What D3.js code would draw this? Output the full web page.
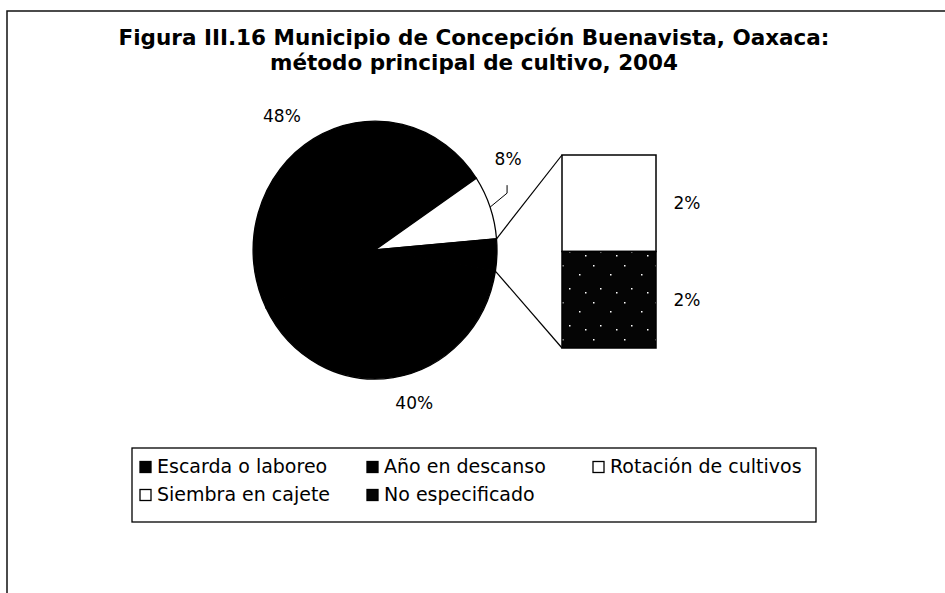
<!DOCTYPE html>
<html>
<head>
<meta charset="utf-8">
<script src="https://cdn.jsdelivr.net/npm/d3@7"></script>
<style>
  body { margin: 0; background: #fff; }
</style>
</head>
<body>
<svg id="chart" width="945" height="593"></svg>
<script>
"use strict";

// chart values
var title_lines = [
    "Figura III.16 Municipio de Concepción Buenavista, Oaxaca:",
    "método principal de cultivo, 2004"
];
var categories = ["Escarda o laboreo", "Año en descanso", "Rotación de cultivos",
                  "Siembra en cajete", "No especificado"];
var values = [48, 40, 8, 2, 2];
// the last two points are pulled out of the pie into the stacked bar
var in_bar = [false, false, false, true, true];
// clockwise drawing order of the pie slices ("Otros" is the bar slice)
var pie_order = ["Año en descanso", "Escarda o laboreo", "Rotación de cultivos", "Otros"];
var fills = ["#000", "#000", "#fff", "#fff", "url(#speckle)"];

var font = "'Century Gothic', 'DejaVu Sans', sans-serif";
var svg = d3.select("#chart");

// speckled dark fill used for "No especificado"
var defs = svg.append("defs");
var pat = defs.append("pattern")
    .attr("id", "speckle")
    .attr("patternUnits", "userSpaceOnUse")
    .attr("width", 31).attr("height", 37);
pat.append("rect").attr("width", 31).attr("height", 37).attr("fill", "#050505");
[[4, 6], [21, 15], [11, 29], [27, 33]].forEach(function(p) {
    pat.append("rect").attr("x", p[0]).attr("y", p[1])
        .attr("width", 1.5).attr("height", 1.5).attr("fill", "#fff");
});

// outer frame (only top and left edges show in the figure)
svg.append("path")
    .attr("d", "M7,593V11H945")
    .attr("fill", "none")
    .attr("stroke", "#111")
    .attr("stroke-width", 1.5);

// title
svg.append("text")
    .attr("x", 474).attr("y", 45)
    .attr("text-anchor", "middle")
    .attr("font-family", font)
    .attr("font-weight", "bold")
    .attr("font-size", 21.5)
    .selectAll("tspan")
    .data(title_lines)
  .enter().append("tspan")
    .attr("x", 474)
    .attr("dy", function(d, i) { return i === 0 ? 0 : 25; })
    .text(function(d) { return d; });

// ---- pie ----
var cx = 375, cy = 250, rx = 122, ry = 129;
var other_value = d3.sum(values.filter(function(v, i) { return in_bar[i]; }));

var pie_data = pie_order.map(function(name) {
    var i = categories.indexOf(name);
    return {
        name: name,
        value: i < 0 ? other_value : values[i],
        fill: i < 0 ? "#000" : fills[i]
    };
});

// place the "Otros" slice just right of 3 o'clock, like the original
var other_start = 85 * Math.PI / 180;
var before = d3.sum(pie_data.slice(0, 3), function(d) { return d.value; }) / 100 * 2 * Math.PI;
var pie = d3.pie()
    .sort(null)
    .value(function(d) { return d.value; })
    .startAngle(other_start - before)
    .endAngle(other_start - before + 2 * Math.PI);
var slices = pie(pie_data);

var arc = d3.arc().innerRadius(0).outerRadius(1);

var pie_g = svg.append("g")
    .attr("transform", "translate(" + cx + "," + cy + ") scale(" + rx + "," + ry + ")");
pie_g.selectAll("path")
    .data(slices)
  .enter().append("path")
    .attr("d", arc)
    .attr("fill", function(d) { return d.data.fill; })
    .attr("stroke", "#000")
    .attr("stroke-width", 1.3)
    .attr("vector-effect", "non-scaling-stroke");

function edge_point(angle, k) {
    return [cx + rx * k * Math.sin(angle), cy - ry * k * Math.cos(angle)];
}
function mid_angle(d) { return (d.startAngle + d.endAngle) / 2; }

function value_label(d) {
    var i = categories.indexOf(d.data.name);
    return values[i] + "%";
}

// outside labels for the two big slices; Excel sets them a bit
// counter-clockwise of the slice middle
var big = slices.filter(function(d) { return d.data.value > 20; });
var label_turn = -0.1;
svg.selectAll(".big-label")
    .data(big)
  .enter().append("text")
    .attr("class", "big-label")
    .attr("x", function(d) { return edge_point(mid_angle(d) + label_turn, 1.3)[0]; })
    .attr("y", function(d) { return edge_point(mid_angle(d), 1.2)[1] + 6; })
    .attr("text-anchor", "middle")
    .attr("font-family", font)
    .attr("font-size", 17)
    .text(value_label);

// small white slice gets a leader line
var small = slices.filter(function(d) { return d.data.name === "Rotación de cultivos"; })[0];
var p0 = edge_point(mid_angle(small), 1);
var elbow = [p0[0] + 17, p0[1] - 14];
var tip = [elbow[0], elbow[1] - 8];
svg.append("polyline")
    .attr("points", [p0, elbow, tip].map(function(p) { return p.join(","); }).join(" "))
    .attr("fill", "none")
    .attr("stroke", "#000")
    .attr("stroke-width", 1);
svg.append("text")
    .attr("x", tip[0] + 1).attr("y", tip[1] - 20)
    .attr("text-anchor", "middle")
    .attr("font-family", font)
    .attr("font-size", 17)
    .text(value_label(small));

// ---- bar of the split slice ----
var bar_x = 562, bar_w = 94;
var bar_items = categories.map(function(name, i) {
    return {name: name, value: values[i], fill: fills[i]};
}).filter(function(d, i) { return in_bar[i]; });

var y = d3.scaleLinear().domain([0, other_value]).range([155, 348]);
var acc = 0;
bar_items.forEach(function(d) { d.y0 = acc; acc += d.value; d.y1 = acc; });

svg.selectAll(".bar-seg")
    .data(bar_items)
  .enter().append("rect")
    .attr("class", "bar-seg")
    .attr("x", bar_x)
    .attr("y", function(d) { return y(d.y0); })
    .attr("width", bar_w)
    .attr("height", function(d) { return y(d.y1) - y(d.y0); })
    .attr("fill", function(d) { return d.fill; })
    .attr("stroke", "#000")
    .attr("stroke-width", 1.5);

svg.selectAll(".bar-label")
    .data(bar_items)
  .enter().append("text")
    .attr("class", "bar-label")
    .attr("x", bar_x + bar_w + 31)
    .attr("y", function(d) { return (y(d.y0) + y(d.y1)) / 2 + 6; })
    .attr("text-anchor", "middle")
    .attr("font-family", font)
    .attr("font-size", 17)
    .text(function(d) { return d.value + "%"; });

// connector lines from the "Otros" slice to the bar corners
var other = slices.filter(function(d) { return d.data.name === "Otros"; })[0];
var connectors = [
    [edge_point(other.startAngle, 1), [bar_x, y(0)]],
    [edge_point(other.endAngle, 1), [bar_x, y(other_value)]]
];
svg.selectAll(".connector")
    .data(connectors)
  .enter().append("line")
    .attr("class", "connector")
    .attr("x1", function(d) { return d[0][0]; })
    .attr("y1", function(d) { return d[0][1]; })
    .attr("x2", function(d) { return d[1][0]; })
    .attr("y2", function(d) { return d[1][1]; })
    .attr("stroke", "#000")
    .attr("stroke-width", 1.2);

// ---- legend ----
var legend = svg.append("g");
legend.append("rect")
    .attr("x", 132).attr("y", 448)
    .attr("width", 684).attr("height", 74)
    .attr("fill", "#fff")
    .attr("stroke", "#000")
    .attr("stroke-width", 1.3);

var col_x = [140, 367, 593], row_y = [467, 495];
var items = legend.selectAll(".item")
    .data(categories)
  .enter().append("g")
    .attr("class", "item")
    .attr("transform", function(d, i) {
        return "translate(" + col_x[i % 3] + "," + row_y[Math.floor(i / 3)] + ")";
    });
items.append("rect")
    .attr("x", 0).attr("y", -5.5)
    .attr("width", 11).attr("height", 11)
    .attr("fill", function(d, i) { return fills[i]; })
    .attr("stroke", "#000")
    .attr("stroke-width", 1.3);
items.append("text")
    .attr("x", 17).attr("y", 6)
    .attr("font-family", font)
    .attr("font-size", 19)
    .text(function(d) { return d; });
</script>
</body>
</html>
